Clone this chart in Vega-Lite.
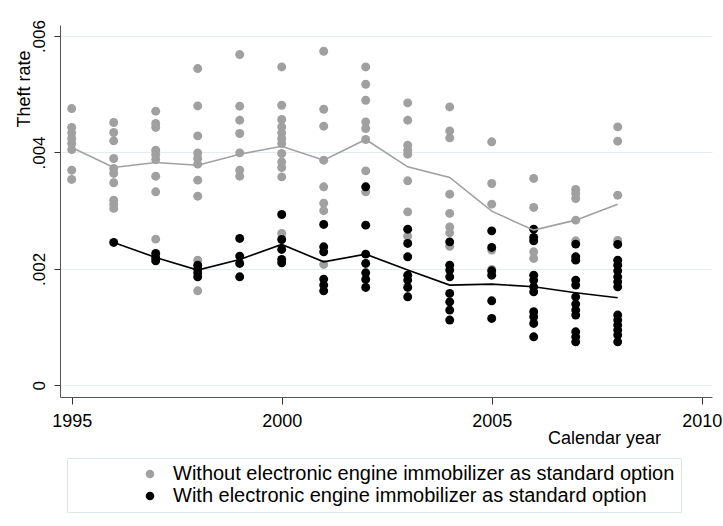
{
  "$schema": "https://vega.github.io/schema/vega-lite/v6.json",
  "width": 652,
  "height": 372,
  "autosize": {"type": "none"},
  "padding": {"left": 60, "top": 25, "right": 11, "bottom": 129},
  "background": "white",
  "config": {"view": {"stroke": null}, "font": "Liberation Sans"},
  "datasets": {
    "points": [
      {"year": 1995, "rate": 0.004755, "group": "without"},
      {"year": 1995, "rate": 0.00443, "group": "without"},
      {"year": 1995, "rate": 0.004337, "group": "without"},
      {"year": 1995, "rate": 0.00424, "group": "without"},
      {"year": 1995, "rate": 0.004155, "group": "without"},
      {"year": 1995, "rate": 0.00405, "group": "without"},
      {"year": 1995, "rate": 0.003696, "group": "without"},
      {"year": 1995, "rate": 0.003537, "group": "without"},
      {"year": 1996, "rate": 0.004515, "group": "without"},
      {"year": 1996, "rate": 0.004343, "group": "without"},
      {"year": 1996, "rate": 0.0042, "group": "without"},
      {"year": 1996, "rate": 0.003897, "group": "without"},
      {"year": 1996, "rate": 0.003725, "group": "without"},
      {"year": 1996, "rate": 0.00364, "group": "without"},
      {"year": 1996, "rate": 0.00348, "group": "without"},
      {"year": 1996, "rate": 0.00318, "group": "without"},
      {"year": 1996, "rate": 0.00311, "group": "without"},
      {"year": 1996, "rate": 0.00304, "group": "without"},
      {"year": 1997, "rate": 0.00471, "group": "without"},
      {"year": 1997, "rate": 0.0045, "group": "without"},
      {"year": 1997, "rate": 0.00443, "group": "without"},
      {"year": 1997, "rate": 0.00404, "group": "without"},
      {"year": 1997, "rate": 0.003965, "group": "without"},
      {"year": 1997, "rate": 0.00388, "group": "without"},
      {"year": 1997, "rate": 0.003593, "group": "without"},
      {"year": 1997, "rate": 0.003324, "group": "without"},
      {"year": 1997, "rate": 0.002512, "group": "without"},
      {"year": 1998, "rate": 0.005442, "group": "without"},
      {"year": 1998, "rate": 0.0048, "group": "without"},
      {"year": 1998, "rate": 0.004285, "group": "without"},
      {"year": 1998, "rate": 0.003993, "group": "without"},
      {"year": 1998, "rate": 0.003897, "group": "without"},
      {"year": 1998, "rate": 0.0038, "group": "without"},
      {"year": 1998, "rate": 0.003525, "group": "without"},
      {"year": 1998, "rate": 0.00325, "group": "without"},
      {"year": 1998, "rate": 0.00215, "group": "without"},
      {"year": 1998, "rate": 0.001624, "group": "without"},
      {"year": 1999, "rate": 0.005682, "group": "without"},
      {"year": 1999, "rate": 0.004795, "group": "without"},
      {"year": 1999, "rate": 0.004555, "group": "without"},
      {"year": 1999, "rate": 0.004326, "group": "without"},
      {"year": 1999, "rate": 0.003993, "group": "without"},
      {"year": 1999, "rate": 0.003696, "group": "without"},
      {"year": 1999, "rate": 0.003593, "group": "without"},
      {"year": 2000, "rate": 0.00547, "group": "without"},
      {"year": 2000, "rate": 0.004812, "group": "without"},
      {"year": 2000, "rate": 0.004567, "group": "without"},
      {"year": 2000, "rate": 0.00444, "group": "without"},
      {"year": 2000, "rate": 0.004337, "group": "without"},
      {"year": 2000, "rate": 0.00424, "group": "without"},
      {"year": 2000, "rate": 0.004155, "group": "without"},
      {"year": 2000, "rate": 0.003983, "group": "without"},
      {"year": 2000, "rate": 0.003839, "group": "without"},
      {"year": 2000, "rate": 0.003742, "group": "without"},
      {"year": 2000, "rate": 0.003581, "group": "without"},
      {"year": 2000, "rate": 0.00261, "group": "without"},
      {"year": 2001, "rate": 0.005739, "group": "without"},
      {"year": 2001, "rate": 0.004743, "group": "without"},
      {"year": 2001, "rate": 0.004452, "group": "without"},
      {"year": 2001, "rate": 0.003868, "group": "without"},
      {"year": 2001, "rate": 0.00341, "group": "without"},
      {"year": 2001, "rate": 0.00313, "group": "without"},
      {"year": 2001, "rate": 0.003, "group": "without"},
      {"year": 2001, "rate": 0.002077, "group": "without"},
      {"year": 2002, "rate": 0.00547, "group": "without"},
      {"year": 2002, "rate": 0.005172, "group": "without"},
      {"year": 2002, "rate": 0.004898, "group": "without"},
      {"year": 2002, "rate": 0.004526, "group": "without"},
      {"year": 2002, "rate": 0.004412, "group": "without"},
      {"year": 2002, "rate": 0.004223, "group": "without"},
      {"year": 2002, "rate": 0.003684, "group": "without"},
      {"year": 2002, "rate": 0.003324, "group": "without"},
      {"year": 2003, "rate": 0.004852, "group": "without"},
      {"year": 2003, "rate": 0.004555, "group": "without"},
      {"year": 2003, "rate": 0.004125, "group": "without"},
      {"year": 2003, "rate": 0.00404, "group": "without"},
      {"year": 2003, "rate": 0.003971, "group": "without"},
      {"year": 2003, "rate": 0.003513, "group": "without"},
      {"year": 2003, "rate": 0.00298, "group": "without"},
      {"year": 2003, "rate": 0.002563, "group": "without"},
      {"year": 2004, "rate": 0.004783, "group": "without"},
      {"year": 2004, "rate": 0.004371, "group": "without"},
      {"year": 2004, "rate": 0.004251, "group": "without"},
      {"year": 2004, "rate": 0.003284, "group": "without"},
      {"year": 2004, "rate": 0.002953, "group": "without"},
      {"year": 2004, "rate": 0.00272, "group": "without"},
      {"year": 2004, "rate": 0.00262, "group": "without"},
      {"year": 2004, "rate": 0.00239, "group": "without"},
      {"year": 2005, "rate": 0.004183, "group": "without"},
      {"year": 2005, "rate": 0.003468, "group": "without"},
      {"year": 2005, "rate": 0.003112, "group": "without"},
      {"year": 2005, "rate": 0.002323, "group": "without"},
      {"year": 2005, "rate": 0.001991, "group": "without"},
      {"year": 2006, "rate": 0.003554, "group": "without"},
      {"year": 2006, "rate": 0.003056, "group": "without"},
      {"year": 2006, "rate": 0.002294, "group": "without"},
      {"year": 2006, "rate": 0.00218, "group": "without"},
      {"year": 2007, "rate": 0.003365, "group": "without"},
      {"year": 2007, "rate": 0.003296, "group": "without"},
      {"year": 2007, "rate": 0.00321, "group": "without"},
      {"year": 2007, "rate": 0.002838, "group": "without"},
      {"year": 2007, "rate": 0.002483, "group": "without"},
      {"year": 2008, "rate": 0.00444, "group": "without"},
      {"year": 2008, "rate": 0.004194, "group": "without"},
      {"year": 2008, "rate": 0.003267, "group": "without"},
      {"year": 2008, "rate": 0.00249, "group": "without"},
      {"year": 1996, "rate": 0.002455, "group": "with"},
      {"year": 1997, "rate": 0.002266, "group": "with"},
      {"year": 1997, "rate": 0.00219, "group": "with"},
      {"year": 1997, "rate": 0.00214, "group": "with"},
      {"year": 1998, "rate": 0.002065, "group": "with"},
      {"year": 1998, "rate": 0.001997, "group": "with"},
      {"year": 1998, "rate": 0.001933, "group": "with"},
      {"year": 1998, "rate": 0.001864, "group": "with"},
      {"year": 1999, "rate": 0.002524, "group": "with"},
      {"year": 1999, "rate": 0.00222, "group": "with"},
      {"year": 1999, "rate": 0.002094, "group": "with"},
      {"year": 1999, "rate": 0.001864, "group": "with"},
      {"year": 2000, "rate": 0.002935, "group": "with"},
      {"year": 2000, "rate": 0.002506, "group": "with"},
      {"year": 2000, "rate": 0.002335, "group": "with"},
      {"year": 2000, "rate": 0.002163, "group": "with"},
      {"year": 2000, "rate": 0.002105, "group": "with"},
      {"year": 2001, "rate": 0.002764, "group": "with"},
      {"year": 2001, "rate": 0.00238, "group": "with"},
      {"year": 2001, "rate": 0.002294, "group": "with"},
      {"year": 2001, "rate": 0.001825, "group": "with"},
      {"year": 2001, "rate": 0.001722, "group": "with"},
      {"year": 2001, "rate": 0.001624, "group": "with"},
      {"year": 2002, "rate": 0.00341, "group": "with"},
      {"year": 2002, "rate": 0.002752, "group": "with"},
      {"year": 2002, "rate": 0.002254, "group": "with"},
      {"year": 2002, "rate": 0.002094, "group": "with"},
      {"year": 2002, "rate": 0.001933, "group": "with"},
      {"year": 2002, "rate": 0.001819, "group": "with"},
      {"year": 2002, "rate": 0.001682, "group": "with"},
      {"year": 2003, "rate": 0.002683, "group": "with"},
      {"year": 2003, "rate": 0.002438, "group": "with"},
      {"year": 2003, "rate": 0.002208, "group": "with"},
      {"year": 2003, "rate": 0.001893, "group": "with"},
      {"year": 2003, "rate": 0.001808, "group": "with"},
      {"year": 2003, "rate": 0.001682, "group": "with"},
      {"year": 2003, "rate": 0.001521, "group": "with"},
      {"year": 2004, "rate": 0.002465, "group": "with"},
      {"year": 2004, "rate": 0.002065, "group": "with"},
      {"year": 2004, "rate": 0.00198, "group": "with"},
      {"year": 2004, "rate": 0.001864, "group": "with"},
      {"year": 2004, "rate": 0.00158, "group": "with"},
      {"year": 2004, "rate": 0.001435, "group": "with"},
      {"year": 2004, "rate": 0.001293, "group": "with"},
      {"year": 2004, "rate": 0.001121, "group": "with"},
      {"year": 2005, "rate": 0.002654, "group": "with"},
      {"year": 2005, "rate": 0.002369, "group": "with"},
      {"year": 2005, "rate": 0.001967, "group": "with"},
      {"year": 2005, "rate": 0.001893, "group": "with"},
      {"year": 2005, "rate": 0.001452, "group": "with"},
      {"year": 2005, "rate": 0.00115, "group": "with"},
      {"year": 2006, "rate": 0.002683, "group": "with"},
      {"year": 2006, "rate": 0.00254, "group": "with"},
      {"year": 2006, "rate": 0.002483, "group": "with"},
      {"year": 2006, "rate": 0.001893, "group": "with"},
      {"year": 2006, "rate": 0.001808, "group": "with"},
      {"year": 2006, "rate": 0.001693, "group": "with"},
      {"year": 2006, "rate": 0.001607, "group": "with"},
      {"year": 2006, "rate": 0.001264, "group": "with"},
      {"year": 2006, "rate": 0.001178, "group": "with"},
      {"year": 2006, "rate": 0.001064, "group": "with"},
      {"year": 2006, "rate": 0.000834, "group": "with"},
      {"year": 2007, "rate": 0.002426, "group": "with"},
      {"year": 2007, "rate": 0.002208, "group": "with"},
      {"year": 2007, "rate": 0.002151, "group": "with"},
      {"year": 2007, "rate": 0.001808, "group": "with"},
      {"year": 2007, "rate": 0.001722, "group": "with"},
      {"year": 2007, "rate": 0.001521, "group": "with"},
      {"year": 2007, "rate": 0.001396, "group": "with"},
      {"year": 2007, "rate": 0.001293, "group": "with"},
      {"year": 2007, "rate": 0.001207, "group": "with"},
      {"year": 2007, "rate": 0.00092, "group": "with"},
      {"year": 2007, "rate": 0.000834, "group": "with"},
      {"year": 2007, "rate": 0.000748, "group": "with"},
      {"year": 2008, "rate": 0.002421, "group": "with"},
      {"year": 2008, "rate": 0.002151, "group": "with"},
      {"year": 2008, "rate": 0.002065, "group": "with"},
      {"year": 2008, "rate": 0.001967, "group": "with"},
      {"year": 2008, "rate": 0.001864, "group": "with"},
      {"year": 2008, "rate": 0.001779, "group": "with"},
      {"year": 2008, "rate": 0.001693, "group": "with"},
      {"year": 2008, "rate": 0.001207, "group": "with"},
      {"year": 2008, "rate": 0.001121, "group": "with"},
      {"year": 2008, "rate": 0.001035, "group": "with"},
      {"year": 2008, "rate": 0.00095, "group": "with"},
      {"year": 2008, "rate": 0.000864, "group": "with"},
      {"year": 2008, "rate": 0.000748, "group": "with"}
    ],
    "means": [
      {"year": 1995, "rate": 0.004086, "group": "without"},
      {"year": 1996, "rate": 0.003742, "group": "without"},
      {"year": 1997, "rate": 0.003828, "group": "without"},
      {"year": 1998, "rate": 0.003782, "group": "without"},
      {"year": 1999, "rate": 0.003971, "group": "without"},
      {"year": 2000, "rate": 0.004108, "group": "without"},
      {"year": 2001, "rate": 0.003868, "group": "without"},
      {"year": 2002, "rate": 0.004223, "group": "without"},
      {"year": 2003, "rate": 0.003753, "group": "without"},
      {"year": 2004, "rate": 0.003571, "group": "without"},
      {"year": 2005, "rate": 0.002992, "group": "without"},
      {"year": 2006, "rate": 0.002666, "group": "without"},
      {"year": 2007, "rate": 0.002838, "group": "without"},
      {"year": 2008, "rate": 0.003112, "group": "without"},
      {"year": 1996, "rate": 0.002455, "group": "with"},
      {"year": 1997, "rate": 0.002197, "group": "with"},
      {"year": 1998, "rate": 0.00198, "group": "with"},
      {"year": 1999, "rate": 0.002163, "group": "with"},
      {"year": 2000, "rate": 0.00242, "group": "with"},
      {"year": 2001, "rate": 0.002122, "group": "with"},
      {"year": 2002, "rate": 0.002254, "group": "with"},
      {"year": 2003, "rate": 0.00198, "group": "with"},
      {"year": 2004, "rate": 0.001722, "group": "with"},
      {"year": 2005, "rate": 0.001739, "group": "with"},
      {"year": 2006, "rate": 0.001693, "group": "with"},
      {"year": 2007, "rate": 0.00159, "group": "with"},
      {"year": 2008, "rate": 0.001504, "group": "with"}
    ]
  },
  "encoding": {
    "x": {
      "field": "year",
      "type": "quantitative",
      "scale": {"domain": [1994.7214, 2010.2452], "nice": false, "zero": false},
      "axis": {
        "values": [1995, 2000, 2005, 2010],
        "format": "d",
        "grid": false,
        "labelFontSize": 18,
        "labelColor": "#000000",
        "labelPadding": 8,
        "labelBaseline": "top",
        "labelFlush": false,
        "labelOverlap": false,
        "tickSize": 7,
        "tickColor": "#333333",
        "domainColor": "#555555",
        "title": "Calendar year",
        "titleFontSize": 18,
        "titleFontWeight": "normal",
        "titleColor": "#000000",
        "titleX": 544,
        "titleY": 41,
        "titleAlign": "center",
        "titleBaseline": "middle"
      }
    },
    "y": {
      "field": "rate",
      "type": "quantitative",
      "scale": {"domain": [-0.0002, 0.00619], "nice": false, "zero": false},
      "axis": {
        "values": [0, 0.002, 0.004, 0.006],
        "labelExpr": "datum.value == 0 ? '0' : substring(format(datum.value, '.3f'), 1)",
        "labelAngle": 270,
        "labelAlign": "center",
        "labelBaseline": "alphabetic",
        "labelFontSize": 17,
        "labelColor": "#000000",
        "labelPadding": 10,
        "tickSize": 6,
        "tickColor": "#333333",
        "domainColor": "#555555",
        "grid": true,
        "gridColor": "#e4ecef",
        "gridWidth": 1.2,
        "title": "Theft rate",
        "titleFontSize": 18,
        "titleFontWeight": "normal",
        "titleColor": "#000000",
        "titleAngle": 270,
        "titleX": -31,
        "titleY": 25,
        "titleAlign": "right",
        "titleBaseline": "alphabetic"
      }
    },
    "color": {
      "field": "group",
      "type": "nominal",
      "scale": {"domain": ["without", "with"], "range": ["#a0a0a0", "#000000"]}
    }
  },
  "layer": [
    {
      "data": {"name": "points"},
      "mark": {"type": "circle", "size": 80, "opacity": 1},
      "encoding": {
        "color": {
          "field": "group",
          "type": "nominal",
          "scale": {"domain": ["without", "with"], "range": ["#a0a0a0", "#000000"]},
          "legend": {
            "orient": "none",
            "legendX": 7,
            "legendY": 433,
            "title": null,
            "padding": 6,
            "strokeColor": "#dde6ea",
            "fillColor": "#ffffff",
            "symbolType": "circle",
            "symbolSize": 50,
            "symbolOffset": 67,
            "labelOffset": 13,
            "labelFontSize": 20,
            "labelColor": "#000000",
            "labelLimit": 700,
            "rowPadding": 2,
            "labelExpr": "datum.value == 'without' ? 'Without electronic engine immobilizer as standard option' : 'With electronic engine immobilizer as standard option'"
          }
        }
      }
    },
    {
      "data": {"name": "means"},
      "mark": {"type": "line", "strokeWidth": 1.6},
      "encoding": {
        "color": {
          "field": "group",
          "type": "nominal",
          "scale": {"domain": ["without", "with"], "range": ["#a0a0a0", "#000000"]},
          "legend": null
        }
      }
    }
  ]
}
